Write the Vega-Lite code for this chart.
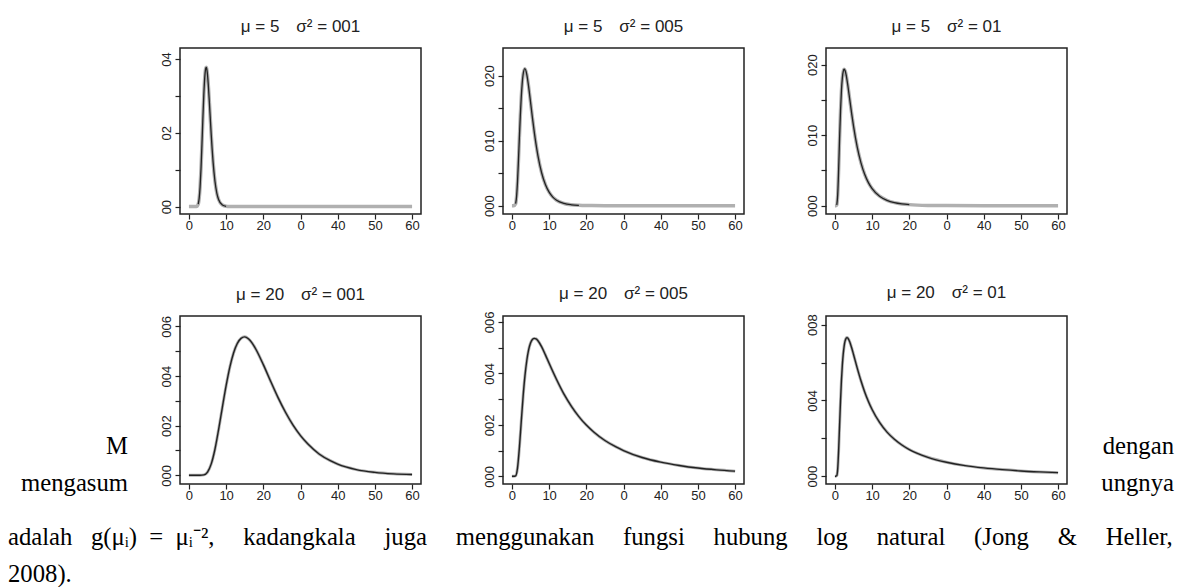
{
 "$schema": "https://vega.github.io/schema/vega-lite/v6.json",
 "background": "white",
 "padding": {"left": 8, "top": 17, "right": 9, "bottom": 1},
 "autosize": {"type": "pad"},
 "datasets": {
  "d": [
   {"p":1,"x":0,"y":0},{"p":1,"x":1,"y":0},{"p":1,"x":2,"y":0.00017},{"p":1,"x":2.5,"y":0.0068},{"p":1,"x":2.75,"y":0.022},{"p":1,"x":3,"y":0.0534},{"p":1,"x":3.25,"y":0.1034},{"p":1,"x":3.5,"y":0.1684},{"p":1,"x":3.75,"y":0.2388},{"p":1,"x":4,"y":0.3025},{"p":1,"x":4.25,"y":0.3494},{"p":1,"x":4.5,"y":0.374},{"p":1,"x":4.64,"y":0.3775},{"p":1,"x":4.75,"y":0.3754},{"p":1,"x":5,"y":0.3568},{"p":1,"x":5.25,"y":0.3238},{"p":1,"x":5.5,"y":0.2824},{"p":1,"x":5.75,"y":0.2379},{"p":1,"x":6,"y":0.1945},{"p":1,"x":6.25,"y":0.1549},{"p":1,"x":6.5,"y":0.1205},{"p":1,"x":7,"y":0.0687},{"p":1,"x":7.5,"y":0.0367},{"p":1,"x":8,"y":0.0186},{"p":1,"x":9,"y":0.0042},{"p":1,"x":10,"y":0.00085},{"p":1,"x":11,"y":0.00016},{"p":1,"x":12,"y":0},{"p":1,"x":15,"y":0},{"p":1,"x":20,"y":0},{"p":1,"x":30,"y":0},{"p":1,"x":40,"y":0},{"p":1,"x":50,"y":0},{"p":1,"x":60,"y":0},
   {"p":2,"x":0,"y":0},{"p":2,"x":0.5,"y":0},{"p":2,"x":1,"y":0.003},{"p":2,"x":1.25,"y":0.0142},{"p":2,"x":1.5,"y":0.037},{"p":2,"x":1.75,"y":0.0689},{"p":2,"x":2,"y":0.1043},{"p":2,"x":2.25,"y":0.1378},{"p":2,"x":2.5,"y":0.1661},{"p":2,"x":2.75,"y":0.1873},{"p":2,"x":3,"y":0.2014},{"p":2,"x":3.47,"y":0.2108},{"p":2,"x":4,"y":0.2018},{"p":2,"x":4.5,"y":0.1828},{"p":2,"x":5,"y":0.1596},{"p":2,"x":5.5,"y":0.1358},{"p":2,"x":6,"y":0.1136},{"p":2,"x":7,"y":0.0767},{"p":2,"x":8,"y":0.0503},{"p":2,"x":9,"y":0.0325},{"p":2,"x":10,"y":0.0208},{"p":2,"x":11,"y":0.0132},{"p":2,"x":12,"y":0.0084},{"p":2,"x":14,"y":0.0034},{"p":2,"x":16,"y":0.00135},{"p":2,"x":18,"y":0.00055},{"p":2,"x":20,"y":0.00022},{"p":2,"x":25,"y":0.00002},{"p":2,"x":30,"y":0},{"p":2,"x":40,"y":0},{"p":2,"x":50,"y":0},{"p":2,"x":60,"y":0},
   {"p":3,"x":0,"y":0},{"p":3,"x":0.25,"y":0},{"p":3,"x":0.5,"y":0.0011},{"p":3,"x":0.75,"y":0.0157},{"p":3,"x":1,"y":0.0514},{"p":3,"x":1.25,"y":0.0952},{"p":3,"x":1.5,"y":0.1341},{"p":3,"x":1.75,"y":0.163},{"p":3,"x":2,"y":0.1813},{"p":3,"x":2.25,"y":0.1909},{"p":3,"x":2.5,"y":0.1936},{"p":3,"x":2.75,"y":0.1914},{"p":3,"x":3,"y":0.186},{"p":3,"x":3.5,"y":0.1694},{"p":3,"x":4,"y":0.15},{"p":3,"x":4.5,"y":0.1307},{"p":3,"x":5,"y":0.1128},{"p":3,"x":6,"y":0.083},{"p":3,"x":7,"y":0.0608},{"p":3,"x":8,"y":0.0445},{"p":3,"x":9,"y":0.0327},{"p":3,"x":10,"y":0.0242},{"p":3,"x":12,"y":0.0134},{"p":3,"x":14,"y":0.0076},{"p":3,"x":16,"y":0.0043},{"p":3,"x":18,"y":0.0025},{"p":3,"x":20,"y":0.0015},{"p":3,"x":25,"y":0.0004},{"p":3,"x":30,"y":0.00012},{"p":3,"x":40,"y":0.00001},{"p":3,"x":50,"y":0},{"p":3,"x":60,"y":0},
   {"p":4,"x":0,"y":0},{"p":4,"x":1,"y":0},{"p":4,"x":2,"y":0},{"p":4,"x":3,"y":0},{"p":4,"x":4,"y":0.00017},{"p":4,"x":5,"y":0.0013},{"p":4,"x":6,"y":0.0046},{"p":4,"x":7,"y":0.0105},{"p":4,"x":8,"y":0.0186},{"p":4,"x":9,"y":0.0275},{"p":4,"x":10,"y":0.0361},{"p":4,"x":11,"y":0.0436},{"p":4,"x":12,"y":0.0493},{"p":4,"x":13,"y":0.0531},{"p":4,"x":14,"y":0.0552},{"p":4,"x":15,"y":0.0558},{"p":4,"x":16,"y":0.055},{"p":4,"x":17,"y":0.0533},{"p":4,"x":18,"y":0.0508},{"p":4,"x":20,"y":0.0446},{"p":4,"x":22,"y":0.0378},{"p":4,"x":24,"y":0.0312},{"p":4,"x":26,"y":0.0253},{"p":4,"x":28,"y":0.0202},{"p":4,"x":30,"y":0.016},{"p":4,"x":32,"y":0.0126},{"p":4,"x":35,"y":0.0086},{"p":4,"x":38,"y":0.0059},{"p":4,"x":40,"y":0.0045},{"p":4,"x":45,"y":0.0023},{"p":4,"x":50,"y":0.0012},{"p":4,"x":55,"y":0.0006},{"p":4,"x":60,"y":0.0003},
   {"p":5,"x":0,"y":0},{"p":5,"x":0.5,"y":0},{"p":5,"x":1,"y":0.0002},{"p":5,"x":1.5,"y":0.0032},{"p":5,"x":2,"y":0.011},{"p":5,"x":2.5,"y":0.0211},{"p":5,"x":3,"y":0.0309},{"p":5,"x":3.5,"y":0.039},{"p":5,"x":4,"y":0.045},{"p":5,"x":4.5,"y":0.0492},{"p":5,"x":5,"y":0.0518},{"p":5,"x":5.5,"y":0.0532},{"p":5,"x":6,"y":0.0536},{"p":5,"x":6.5,"y":0.0534},{"p":5,"x":7,"y":0.0527},{"p":5,"x":8,"y":0.0503},{"p":5,"x":9,"y":0.0472},{"p":5,"x":10,"y":0.0439},{"p":5,"x":12,"y":0.0376},{"p":5,"x":14,"y":0.0319},{"p":5,"x":16,"y":0.0272},{"p":5,"x":18,"y":0.0232},{"p":5,"x":20,"y":0.0199},{"p":5,"x":22,"y":0.0172},{"p":5,"x":25,"y":0.0139},{"p":5,"x":28,"y":0.0114},{"p":5,"x":30,"y":0.01},{"p":5,"x":35,"y":0.0073},{"p":5,"x":40,"y":0.0055},{"p":5,"x":45,"y":0.0042},{"p":5,"x":50,"y":0.0032},{"p":5,"x":55,"y":0.0025},{"p":5,"x":60,"y":0.002},
   {"p":6,"x":0,"y":0},{"p":6,"x":0.25,"y":0},{"p":6,"x":0.5,"y":0.0003},{"p":6,"x":0.75,"y":0.004},{"p":6,"x":1,"y":0.0138},{"p":6,"x":1.25,"y":0.0268},{"p":6,"x":1.5,"y":0.0396},{"p":6,"x":1.75,"y":0.0505},{"p":6,"x":2,"y":0.0589},{"p":6,"x":2.5,"y":0.069},{"p":6,"x":3,"y":0.0728},{"p":6,"x":3.25,"y":0.0732},{"p":6,"x":3.5,"y":0.0729},{"p":6,"x":4,"y":0.0709},{"p":6,"x":4.5,"y":0.0678},{"p":6,"x":5,"y":0.0643},{"p":6,"x":6,"y":0.0571},{"p":6,"x":7,"y":0.0504},{"p":6,"x":8,"y":0.0445},{"p":6,"x":9,"y":0.0395},{"p":6,"x":10,"y":0.0352},{"p":6,"x":12,"y":0.0284},{"p":6,"x":14,"y":0.0233},{"p":6,"x":16,"y":0.0195},{"p":6,"x":18,"y":0.0165},{"p":6,"x":20,"y":0.0141},{"p":6,"x":22,"y":0.0122},{"p":6,"x":25,"y":0.01},{"p":6,"x":30,"y":0.0074},{"p":6,"x":35,"y":0.0056},{"p":6,"x":40,"y":0.0044},{"p":6,"x":45,"y":0.0035},{"p":6,"x":50,"y":0.0028},{"p":6,"x":55,"y":0.0023},{"p":6,"x":60,"y":0.0019}
  ]
 },
 "columns": 5,
 "align": "each",
 "bounds": "flush",
 "spacing": {"row": 102, "column": 82},
 "concat": [
  {"width": 90, "height": 10, "data": {"values": []}, "mark": "text"},
  {
   "width": 241, "height": 166,
   "view": {"stroke": "#222", "strokeWidth": 1.5},
   "title": {"text": "μ = 5\u2003σ² = 001"},
   "data": {"name": "d"},
   "transform": [{"filter": "datum.p == 1"}],
   "encoding": {
    "x": {"field": "x", "type": "quantitative", "scale": {"domain": [-2.4, 62.4], "nice": false, "zero": false}, "axis": {"values": [0,10,20,30,40,50,60], "labelExpr": "datum.value == 30 ? '0' : datum.label"}},
    "y": {"field": "y", "type": "quantitative", "scale": {"domain": [-0.02, 0.43], "nice": false, "zero": false}, "axis": {"values": [0,0.1,0.2,0.3,0.4], "labelExpr": "round(datum.value*10) % 2 == 0 ? replace(format(datum.value, '.1f'), '.', '') : ''"}}
   },
   "layer": [
    {"mark": {"type": "line", "color": "#b0b0b0", "strokeWidth": 3.5, "interpolate": "monotone"}},
    {"transform": [{"filter": "datum.y > 0.0005"}], "mark": {"type": "line", "color": "#222", "strokeWidth": 1.3, "interpolate": "monotone"}}
   ]
  },
  {
   "width": 241, "height": 166,
   "view": {"stroke": "#222", "strokeWidth": 1.5},
   "title": {"text": "μ = 5\u2003σ² = 005"},
   "data": {"name": "d"},
   "transform": [{"filter": "datum.p == 2"}],
   "encoding": {
    "x": {"field": "x", "type": "quantitative", "scale": {"domain": [-2.4, 62.4], "nice": false, "zero": false}, "axis": {"values": [0,10,20,30,40,50,60], "labelExpr": "datum.value == 30 ? '0' : datum.label"}},
    "y": {"field": "y", "type": "quantitative", "scale": {"domain": [-0.0128, 0.2426], "nice": false, "zero": false}, "axis": {"values": [0,0.05,0.1,0.15,0.2], "labelExpr": "round(datum.value*100) % 10 == 0 ? replace(format(datum.value, '.2f'), '.', '') : ''"}}
   },
   "layer": [
    {"mark": {"type": "line", "color": "#b0b0b0", "strokeWidth": 3.5, "interpolate": "monotone"}},
    {"transform": [{"filter": "datum.y > 0.0005"}], "mark": {"type": "line", "color": "#222", "strokeWidth": 1.3, "interpolate": "monotone"}}
   ]
  },
  {
   "width": 241, "height": 166,
   "view": {"stroke": "#222", "strokeWidth": 1.5},
   "title": {"text": "μ = 5\u2003σ² = 01"},
   "data": {"name": "d"},
   "transform": [{"filter": "datum.p == 3"}],
   "encoding": {
    "x": {"field": "x", "type": "quantitative", "scale": {"domain": [-2.4, 62.4], "nice": false, "zero": false}, "axis": {"values": [0,10,20,30,40,50,60], "labelExpr": "datum.value == 30 ? '0' : datum.label"}},
    "y": {"field": "y", "type": "quantitative", "scale": {"domain": [-0.0118, 0.2237], "nice": false, "zero": false}, "axis": {"values": [0,0.05,0.1,0.15,0.2], "labelExpr": "round(datum.value*100) % 10 == 0 ? replace(format(datum.value, '.2f'), '.', '') : ''"}}
   },
   "layer": [
    {"mark": {"type": "line", "color": "#b0b0b0", "strokeWidth": 3.5, "interpolate": "monotone"}},
    {"transform": [{"filter": "datum.y > 0.0005"}], "mark": {"type": "line", "color": "#222", "strokeWidth": 1.3, "interpolate": "monotone"}}
   ]
  },
  {"width": 25, "height": 10, "data": {"values": []}, "mark": "text"},
  {"width": 90, "height": 118, "data": {"values": []}, "mark": "text",
   "title": {"text": ["M", "mengasum"], "orient": "bottom", "anchor": "end", "dx": 30, "offset": 0, "baseline": "top", "font": "Liberation Serif", "fontSize": 24.7, "fontWeight": "normal", "lineHeight": 37, "color": "black"}},
  {
   "width": 241, "height": 168,
   "view": {"stroke": "#222", "strokeWidth": 1.5},
   "title": {"text": "μ = 20\u2003σ² = 001"},
   "data": {"name": "d"},
   "transform": [{"filter": "datum.p == 4"}],
   "encoding": {
    "x": {"field": "x", "type": "quantitative", "scale": {"domain": [-2.4, 62.4], "nice": false, "zero": false}, "axis": {"values": [0,10,20,30,40,50,60], "labelExpr": "datum.value == 30 ? '0' : datum.label"}},
    "y": {"field": "y", "type": "quantitative", "scale": {"domain": [-0.0035, 0.0642], "nice": false, "zero": false}, "axis": {"values": [0,0.01,0.02,0.03,0.04,0.05,0.06], "labelExpr": "round(datum.value*100) % 2 == 0 ? replace(format(datum.value, '.2f'), '.', '') : ''"}}
   },
   "layer": [
    {"mark": {"type": "line", "color": "#b0b0b0", "strokeWidth": 3, "interpolate": "monotone"}},
    {"mark": {"type": "line", "color": "#222", "strokeWidth": 1.4, "interpolate": "monotone"}}
   ]
  },
  {
   "width": 241, "height": 168,
   "view": {"stroke": "#222", "strokeWidth": 1.5},
   "title": {"text": "μ = 20\u2003σ² = 005", "offset": 8},
   "data": {"name": "d"},
   "transform": [{"filter": "datum.p == 5"}],
   "encoding": {
    "x": {"field": "x", "type": "quantitative", "scale": {"domain": [-2.4, 62.4], "nice": false, "zero": false}, "axis": {"values": [0,10,20,30,40,50,60], "labelExpr": "datum.value == 30 ? '0' : datum.label"}},
    "y": {"field": "y", "type": "quantitative", "scale": {"domain": [-0.003, 0.0623], "nice": false, "zero": false}, "axis": {"values": [0,0.01,0.02,0.03,0.04,0.05,0.06], "labelExpr": "round(datum.value*100) % 2 == 0 ? replace(format(datum.value, '.2f'), '.', '') : ''"}}
   },
   "layer": [
    {"mark": {"type": "line", "color": "#b0b0b0", "strokeWidth": 3, "interpolate": "monotone"}},
    {"mark": {"type": "line", "color": "#222", "strokeWidth": 1.4, "interpolate": "monotone"}}
   ]
  },
  {
   "width": 241, "height": 168,
   "view": {"stroke": "#222", "strokeWidth": 1.5},
   "title": {"text": "μ = 20\u2003σ² = 01"},
   "data": {"name": "d"},
   "transform": [{"filter": "datum.p == 6"}],
   "encoding": {
    "x": {"field": "x", "type": "quantitative", "scale": {"domain": [-2.4, 62.4], "nice": false, "zero": false}, "axis": {"values": [0,10,20,30,40,50,60], "labelExpr": "datum.value == 30 ? '0' : datum.label"}},
    "y": {"field": "y", "type": "quantitative", "scale": {"domain": [-0.0041, 0.0846], "nice": false, "zero": false}, "axis": {"values": [0,0.02,0.04,0.06,0.08], "labelExpr": "round(datum.value*100) % 4 == 0 ? replace(format(datum.value, '.2f'), '.', '') : ''"}}
   },
   "layer": [
    {"mark": {"type": "line", "color": "#b0b0b0", "strokeWidth": 3, "interpolate": "monotone"}},
    {"mark": {"type": "line", "color": "#222", "strokeWidth": 1.4, "interpolate": "monotone"}}
   ]
  },
  {"width": 25, "height": 118, "data": {"values": []}, "mark": "text",
   "title": {"text": ["dengan", "ungnya"], "orient": "bottom", "anchor": "end", "offset": 0, "baseline": "top", "font": "Liberation Serif", "fontSize": 24.7, "fontWeight": "normal", "lineHeight": 37, "color": "black"}},
  {"width": 90, "height": 1, "data": {"values": []}, "mark": "text",
   "title": {"text": ["adalah \u2002g(μᵢ)\u2002=\u2002μᵢ⁻², \u2002\u2005\u2006kadangkala \u2002\u2005\u2006juga \u2002\u2005\u2006menggunakan \u2002\u2005\u2006fungsi \u2002\u2005\u2006hubung \u2002\u2005\u2006log \u2002\u2005\u2006natural \u2002\u2005\u2006(Jong \u2002\u2005\u2006& \u2002\u2005\u2006Heller,", "2008)."], "orient": "top", "anchor": "start", "offset": -26, "baseline": "bottom", "font": "Liberation Serif", "fontSize": 24.7, "fontWeight": "normal", "lineHeight": 37, "color": "black"}}
 ],
 "config": {
  "view": {"stroke": null},
  "font": "Liberation Sans",
  "title": {"font": "Liberation Sans", "fontSize": 17, "fontWeight": "normal", "color": "#222", "offset": 12, "frame": "group"},
  "axis": {"domain": false, "grid": false, "ticks": true, "tickSize": 5, "tickColor": "#222", "tickWidth": 1.2, "labelFont": "Liberation Sans", "labelFontSize": 13, "labelColor": "#222", "labelOverlap": false, "labelBound": false, "labelFlush": false, "title": null},
  "axisX": {"labelPadding": 0},
  "axisY": {"labelAngle": 270, "labelAlign": "center", "labelBaseline": "bottom", "labelPadding": 2}
 }
}
